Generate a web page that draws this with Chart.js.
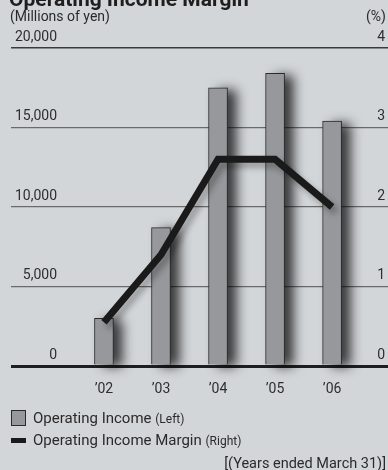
<!DOCTYPE html>
<html>
<head>
<meta charset="utf-8">
<script src="https://cdn.jsdelivr.net/npm/chart.js@4/dist/chart.umd.min.js"></script>
<style>
  html, body { margin: 0; padding: 0; }
  body {
    width: 388px; height: 470px; overflow: hidden; position: relative;
    background: #d3d6d9; font-family: Roboto, sans-serif; color: #2a2a2a;
  }
  #wrap { position: absolute; left: 0; top: 0; width: 388px; height: 470px; }
  .txt { position: absolute; white-space: nowrap; line-height: 1; }
  .title { left: 9px; top: -11px; font-size: 21px; font-weight: bold; color: #1e1e1e; }
  .unit-l { left: 10px; top: 9px; font-size: 14px; }
  .unit-r { right: 2px; top: 9px; font-size: 14px; }
  .legend { left: 11px; font-size: 15px; }
  .legend small { font-size: 12px; }
  .sw { position: absolute; left: 0; }
  .sw-bar { top: -1px; width: 13px; height: 14px; background: #96989b; border: 1px solid #2a2a2a; }
  .sw-line { top: 5px; width: 15px; height: 5px; background: #1a1a1a; }
  .legend span.lbl { margin-left: 22px; }
  .note { right: 2px; top: 457px; font-size: 14.5px; }
</style>
</head>
<body>
<div id="wrap"><canvas id="chart" width="388" height="470"></canvas></div>
<div class="txt title">Operating Income Margin</div>
<div class="txt unit-l">(Millions of yen)</div>
<div class="txt unit-r">(%)</div>
<div class="txt legend" style="top:411px"><i class="sw sw-bar"></i><span class="lbl">Operating Income <small>(Left)</small></span></div>
<div class="txt legend" style="top:433px"><i class="sw sw-line"></i><span class="lbl">Operating Income Margin <small>(Right)</small></span></div>
<div class="txt note">[(Years ended March 31)]</div>
<script>
// fiscal years, left axis in millions of yen, right axis in percent
const years = [2002, 2003, 2004, 2005, 2006];
const yearLabels = ['\u201902', '\u201903', '\u201904', '\u201905', '\u201906'];
const operatingIncome = [3000, 8700, 17500, 18400, 15400];
const operatingMargin = [0.55, 1.4, 2.6, 2.6, 2.0];
const yenTicks = [0, 5000, 10000, 15000, 20000];
const pctTicks = [0, 1, 2, 3, 4];

const INK = '#2e2e2e';
const FONT = { family: 'Roboto, sans-serif', size: 14 };
const FAR = 2000; // shadow shapes are drawn off-canvas and cast back in place

// soft drop shadow behind bars and the margin line
const shadowPlugin = {
    id: 'dropShadow',
    beforeDatasetDraw(chart, args) {
        const ctx = chart.ctx;
        const meta = args.meta;
        ctx.save();
        if (meta.type === 'line') {
            ctx.shadowColor = 'rgba(0,0,0,0.3)';
            ctx.shadowBlur = 6;
            ctx.shadowOffsetX = 4;
            ctx.shadowOffsetY = 5;
            return;
        }
        // bars clip their own drawing, so paint their shadows first
        ctx.shadowColor = 'rgba(0,0,0,0.75)';
        ctx.shadowBlur = 12;
        ctx.shadowOffsetX = FAR + 9;
        ctx.shadowOffsetY = 2;
        ctx.fillStyle = '#000';
        meta.data.forEach(bar => {
            const p = bar.getProps(['x', 'y', 'base', 'width'], true);
            ctx.fillRect(p.x - p.width / 2 - FAR, p.y, p.width, p.base - p.y);
        });
        ctx.restore();
        ctx.save();
    },
    afterDatasetDraw(chart) {
        chart.ctx.restore();
    }
};

// mirrored axes take no room, so the plot spans the full width
const noWidth = s => { s.width = 0; };

new Chart(document.getElementById('chart'), {
    type: 'bar',
    data: {
        datasets: [
            {
                type: 'line',
                label: 'Operating Income Margin',
                data: years.map((x, i) => ({ x, y: operatingMargin[i] })),
                yAxisID: 'pct',
                borderColor: '#1a1a1a',
                borderWidth: 7,
                borderJoinStyle: 'miter',
                borderCapStyle: 'butt',
                pointRadius: 0,
                tension: 0,
                order: 0
            },
            {
                label: 'Operating Income',
                data: years.map((x, i) => ({ x, y: operatingIncome[i] })),
                yAxisID: 'yen',
                backgroundColor: '#96989b',
                borderColor: '#2a2a2a',
                borderWidth: 1,
                barThickness: 19,
                order: 1
            }
        ]
    },
    options: {
        responsive: false,
        animation: false,
        layout: { padding: { top: 48, left: 11, right: 0, bottom: 0 } },
        plugins: { legend: { display: false }, tooltip: { enabled: false } },
        scales: {
            x: {
                type: 'linear',
                offset: false,
                min: 2000.37,
                max: 2006.98,
                grid: { display: false, drawTicks: false },
                border: { display: false },
                afterBuildTicks: s => { s.ticks = years.map(v => ({ value: v })); },
                afterFit: s => { s.height = 104; },
                ticks: {
                    padding: 15,
                    color: INK,
                    font: FONT,
                    callback: v => yearLabels[years.indexOf(v)]
                }
            },
            yen: {
                position: 'left',
                min: 0,
                max: 20000,
                afterBuildTicks: s => { s.ticks = yenTicks.map(v => ({ value: v })); },
                afterFit: noWidth,
                border: { display: false },
                grid: {
                    drawTicks: false,
                    color: c => c.tick.value === 0 ? '#1e1e1e' : (c.tick.value === 20000 ? '#3a3a3a' : '#6a6a6a'),
                    lineWidth: c => c.tick.value === 0 ? 3 : (c.tick.value === 20000 ? 1.5 : 1.2)
                },
                ticks: {
                    mirror: true,
                    crossAlign: 'far',
                    padding: 4,
                    labelOffset: -11,
                    color: INK,
                    font: FONT,
                    callback: v => v.toLocaleString('en-US')
                }
            },
            pct: {
                position: 'right',
                min: 0,
                max: 4,
                afterBuildTicks: s => { s.ticks = pctTicks.map(v => ({ value: v })); },
                afterFit: noWidth,
                border: { display: false },
                grid: { display: false, drawTicks: false },
                ticks: {
                    mirror: true,
                    padding: -3,
                    labelOffset: -11,
                    color: INK,
                    font: FONT
                }
            }
        }
    },
    plugins: [shadowPlugin]
});
</script>
</body>
</html>
